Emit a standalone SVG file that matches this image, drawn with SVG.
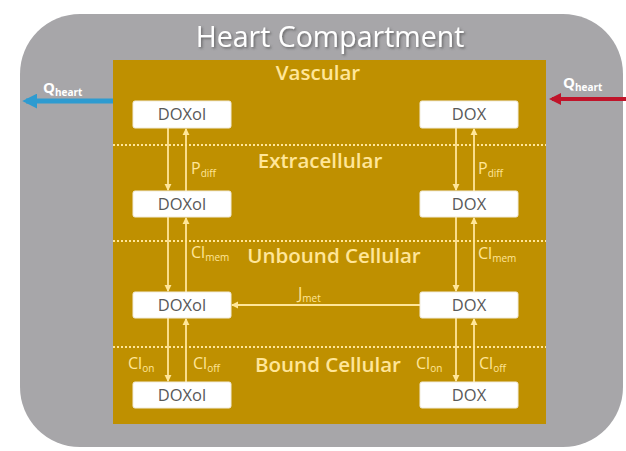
<svg xmlns="http://www.w3.org/2000/svg" width="626" height="451" viewBox="0 0 626 451">
<defs>
<style>
.lbl{font-family:"Open Sans","Liberation Sans",sans-serif;fill:#FFE699;font-weight:600;font-size:20.5px;text-anchor:middle}
.box rect{fill:#FFFFFF;stroke:#F2EBD9;stroke-width:1}
.box text{font-family:"Open Sans","Liberation Sans",sans-serif;font-size:16.5px;fill:#595959;text-anchor:middle}
.conn line{stroke:#FFE699;stroke-width:1.8}
.div{stroke:#FFE699;stroke-width:2;stroke-dasharray:2 2}
.sym{font-family:"Open Sans","Liberation Sans",sans-serif;fill:#FFE699;font-size:16px}
.sub{font-size:10px}
.q{font-family:"Open Sans","Liberation Sans",sans-serif;font-size:15px;font-weight:700;fill:#FFFFFF}
</style>
<marker id="ah" viewBox="0 0 8 8" refX="7" refY="4" markerWidth="4" markerHeight="4" orient="auto" markerUnits="strokeWidth">
<path d="M0,0 L8,4 L0,8 z" fill="#FFE699"/>
</marker>
<marker id="ahb" viewBox="0 0 8 8" refX="6" refY="4" markerWidth="3" markerHeight="3" orient="auto" markerUnits="strokeWidth">
<path d="M0,0 L8,4 L0,8 z" fill="#2E9BD0"/>
</marker>
<marker id="ahr" viewBox="0 0 8 8" refX="6" refY="4" markerWidth="3" markerHeight="3" orient="auto" markerUnits="strokeWidth">
<path d="M0,0 L8,4 L0,8 z" fill="#C0142A"/>
</marker>
<filter id="sh" x="-10%" y="-30%" width="120%" height="160%">
<feDropShadow dx="1.5" dy="1.5" stdDeviation="1" flood-color="#3F3F3F" flood-opacity="0.6"/>
</filter>
</defs>
<rect width="626" height="451" fill="#FFFFFF"/>
<g id="heart-compartment">
<rect x="20" y="14" width="603" height="433" rx="60" ry="60" fill="#A7A6A9"/>
<text x="330" y="47" text-anchor="middle" font-family="Open Sans, Liberation Sans, sans-serif" font-size="28.5" fill="#FFFFFF" filter="url(#sh)">Heart Compartment</text>
</g>
<g id="tissue">
<rect x="113" y="60" width="433" height="364" fill="#BF9000"/>
<line class="div" x1="113" y1="145" x2="546" y2="145"/>
<line class="div" x1="113" y1="241" x2="546" y2="241"/>
<line class="div" x1="113" y1="347" x2="546" y2="347"/>
<text class="lbl" x="318" y="80">Vascular</text>
<text class="lbl" x="320" y="168">Extracellular</text>
<text class="lbl" x="334" y="263">Unbound Cellular</text>
<text class="lbl" x="328" y="372">Bound Cellular</text>
</g>
<g id="connectors" class="conn">
<line x1="113" y1="101" x2="26" y2="101" style="stroke:#2E9BD0;stroke-width:5" marker-end="url(#ahb)"/>
<line x1="626" y1="99" x2="552" y2="99" style="stroke:#C0142A;stroke-width:4" marker-end="url(#ahr)"/>
<line x1="168" y1="128" x2="168" y2="190" marker-end="url(#ah)"/>
<line x1="186" y1="191" x2="186" y2="129" marker-end="url(#ah)"/>
<line x1="168" y1="217" x2="168" y2="291" marker-end="url(#ah)"/>
<line x1="186" y1="292" x2="186" y2="218" marker-end="url(#ah)"/>
<line x1="168" y1="318" x2="168" y2="381" marker-end="url(#ah)"/>
<line x1="186" y1="382" x2="186" y2="319" marker-end="url(#ah)"/>
<line x1="456" y1="128" x2="456" y2="190" marker-end="url(#ah)"/>
<line x1="474" y1="191" x2="474" y2="129" marker-end="url(#ah)"/>
<line x1="456" y1="217" x2="456" y2="291" marker-end="url(#ah)"/>
<line x1="474" y1="292" x2="474" y2="218" marker-end="url(#ah)"/>
<line x1="456" y1="318" x2="456" y2="381" marker-end="url(#ah)"/>
<line x1="474" y1="382" x2="474" y2="319" marker-end="url(#ah)"/>
<line x1="420" y1="305" x2="232" y2="305" marker-end="url(#ah)"/>
</g>
<g id="flow-labels">
<text class="q" x="43" y="93">Q<tspan font-size="10" dy="3">heart</tspan></text>
<text class="q" x="563" y="88">Q<tspan font-size="10" dy="3">heart</tspan></text>
<text class="sym" x="191" y="174">P<tspan class="sub" dy="3">diff</tspan></text>
<text class="sym" x="478" y="174">P<tspan class="sub" dy="3">diff</tspan></text>
<text class="sym" x="191" y="258">Cl<tspan class="sub" dy="3">mem</tspan></text>
<text class="sym" x="478" y="259">Cl<tspan class="sub" dy="3">mem</tspan></text>
<text class="sym" x="298" y="299">J<tspan class="sub" dy="3">met</tspan></text>
<text class="sym" x="128" y="369">Cl<tspan class="sub" dy="3">on</tspan></text>
<text class="sym" x="193" y="369">Cl<tspan class="sub" dy="3">off</tspan></text>
<text class="sym" x="416" y="369">Cl<tspan class="sub" dy="3">on</tspan></text>
<text class="sym" x="479" y="369">Cl<tspan class="sub" dy="3">off</tspan></text>
</g>
<g id="doxol-vascular" class="box"><rect x="133" y="101" width="98" height="27" rx="2"/><text x="182" y="120">DOXol</text></g>
<g id="doxol-extracellular" class="box"><rect x="133" y="191" width="98" height="26" rx="2"/><text x="182" y="210">DOXol</text></g>
<g id="doxol-unbound" class="box"><rect x="133" y="292" width="98" height="26" rx="2"/><text x="182" y="311">DOXol</text></g>
<g id="doxol-bound" class="box"><rect x="133" y="382" width="98" height="26" rx="2"/><text x="182" y="401">DOXol</text></g>
<g id="dox-vascular" class="box"><rect x="420" y="101" width="98" height="27" rx="2"/><text x="469" y="120">DOX</text></g>
<g id="dox-extracellular" class="box"><rect x="420" y="191" width="98" height="26" rx="2"/><text x="469" y="210">DOX</text></g>
<g id="dox-unbound" class="box"><rect x="420" y="292" width="98" height="26" rx="2"/><text x="469" y="311">DOX</text></g>
<g id="dox-bound" class="box"><rect x="420" y="382" width="98" height="26" rx="2"/><text x="469" y="401">DOX</text></g>
</svg>
